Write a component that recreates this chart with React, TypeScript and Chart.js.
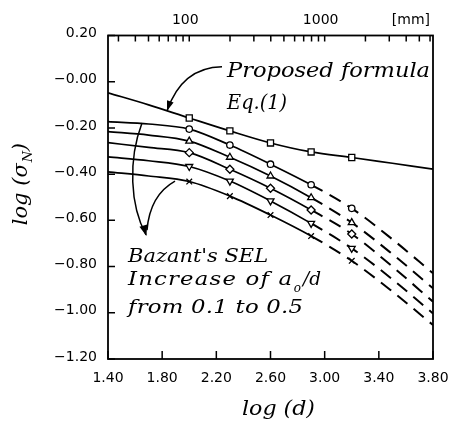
import React, { useEffect, useRef } from "react";
import { Chart, registerables } from "chart.js";

Chart.register(...registerables);

// ---- data ----
const CURVE_X = [1.4, 1.7, 2.0, 2.3, 2.6, 2.9, 3.2, 3.5, 3.8];
const PROPOSED = [-0.048, -0.1, -0.157, -0.213, -0.265, -0.304, -0.328, -0.353, -0.378];
const SEL_A = [-0.173, -0.183, -0.205, -0.274, -0.357, -0.446, -0.548, -0.682, -0.829];
const SEL_B = [-0.216, -0.231, -0.257, -0.327, -0.408, -0.502, -0.61, -0.746, -0.894];
const SEL_C = [-0.264, -0.284, -0.307, -0.379, -0.461, -0.555, -0.659, -0.8, -0.952];
const SEL_D = [-0.325, -0.342, -0.367, -0.43, -0.516, -0.613, -0.721, -0.855, -1.003];
const SEL_E = [-0.39, -0.408, -0.432, -0.495, -0.577, -0.668, -0.775, -0.908, -1.053];

const MARK_X = [2.0, 2.3, 2.6, 2.9, 3.2];
const PROPOSED_MARKS = [-0.157, -0.213, -0.265, -0.304, -0.328];
const SEL_A_MARKS = [-0.205, -0.274, -0.357, -0.446, -0.548];
const SEL_B_MARKS = [-0.257, -0.327, -0.408, -0.502, -0.61];
const SEL_C_MARKS = [-0.307, -0.379, -0.461, -0.555, -0.659];
const SEL_D_MARKS = [-0.367, -0.43, -0.516, -0.613, -0.721];
const SEL_E_MARKS = [-0.432, -0.495, -0.577, -0.668, -0.775];

const DASH_FROM = 2.9;

const X_TICKS = [1.4, 1.8, 2.2, 2.6, 3.0, 3.4, 3.8];
const X_TICK_LABELS = ["1.40", "1.80", "2.20", "2.60", "3.00", "3.40", "3.80"];
const Y_TICKS = [0.2, 0, -0.2, -0.4, -0.6, -0.8, -1.0, -1.2];
const Y_TICK_LABELS = ["0.20", "\u22120.00", "\u22120.20", "\u22120.40", "\u22120.60", "\u22120.80", "\u22121.00", "\u22121.20"];
const MM_LABEL_VALUES = [100, 1000];
const MM_LABELS = ["100", "1000"];
const MM_MINOR = [30, 40, 50, 60, 70, 80, 90, 100, 200, 300, 400, 500, 600, 700, 800, 900, 1000, 2000, 3000, 4000, 5000, 6000];

// ---- helpers ----
const pts = (xs: number[], ys: number[]) => xs.map((x, i) => ({ x, y: ys[i] }));

const curve = (ys: number[], dashed: boolean) => ({
  type: "line" as const,
  data: pts(CURVE_X, ys),
  xAxisID: "x",
  yAxisID: "y",
  borderColor: "#000",
  borderWidth: 1.7,
  pointRadius: 0,
  fill: false,
  cubicInterpolationMode: "monotone" as const,
  order: 2,
  segment: dashed
    ? { borderDash: (c: any) => (c.p0.parsed.x >= DASH_FROM - 1e-9 ? [13, 8] : undefined),
        borderWidth: (c: any) => (c.p0.parsed.x >= DASH_FROM - 1e-9 ? 2 : undefined) }
    : undefined,
});

const marks = (ys: number[], style: string, radius: number, rotation = 0) => ({
  type: "line" as const,
  data: pts(MARK_X, ys),
  xAxisID: "x",
  yAxisID: "y",
  showLine: false,
  pointStyle: style,
  pointRadius: radius,
  pointRotation: rotation,
  pointBackgroundColor: "#fff",
  pointBorderColor: "#000",
  pointBorderWidth: 1.3,
  borderColor: "#000",
  order: 0,
});

// draws text so that it spans `width` px: widen glyphs a little, then spread letters
function fitText(ctx: CanvasRenderingContext2D, text: string, x: number, y: number, width: number, maxStretch = 1.2) {
  const c = ctx as any;
  c.letterSpacing = "0px";
  const w = ctx.measureText(text).width;
  const n = Array.from(text).length;
  let k = width / w;
  if (k > maxStretch) k = maxStretch;
  const sp = n > 1 ? (width - w * k) / (n - 1) : 0;
  ctx.save();
  ctx.translate(x, y);
  ctx.scale(k, 1);
  c.letterSpacing = `${sp / k}px`;
  ctx.fillText(text, 0, 0);
  ctx.restore();
  c.letterSpacing = "0px";
}

function arrowHead(ctx: CanvasRenderingContext2D, tx: number, ty: number, dx: number, dy: number, len: number, half: number) {
  const m = Math.hypot(dx, dy) || 1;
  const ux = dx / m, uy = dy / m;
  const bx = tx - ux * len, by = ty - uy * len;
  ctx.beginPath();
  ctx.moveTo(tx, ty);
  ctx.lineTo(bx - uy * half, by + ux * half);
  ctx.lineTo(bx + uy * half, by - ux * half);
  ctx.closePath();
  ctx.fill();
}

const decor = {
  id: "decor",
  afterDraw(chart: any) {
    const { ctx, chartArea: a } = chart;
    const sx = chart.scales.x, sy = chart.scales.y, st = chart.scales.xTop;
    const X = (v: number) => sx.getPixelForValue(v);
    const Y = (v: number) => sy.getPixelForValue(v);
    ctx.save();
    ctx.strokeStyle = "#000";
    ctx.fillStyle = "#000";

    // frame
    ctx.lineWidth = 1.8;
    ctx.strokeRect(a.left, a.top, a.right - a.left, a.bottom - a.top);

    // inward ticks
    ctx.lineWidth = 1.5;
    ctx.beginPath();
    X_TICKS.forEach((v) => { const p = X(v); ctx.moveTo(p, a.bottom); ctx.lineTo(p, a.bottom - 8); });
    Y_TICKS.forEach((v) => { const p = Y(v); ctx.moveTo(a.left, p); ctx.lineTo(a.left + 7, p); });
    MM_MINOR.forEach((v) => { const p = st.getPixelForValue(v); ctx.moveTo(p, a.top); ctx.lineTo(p, a.top + 6); });
    ctx.stroke();

    // [mm]
    ctx.font = '14px "DejaVu Sans"';
    ctx.textAlign = "right";
    ctx.textBaseline = "middle";
    ctx.fillText("[mm]", a.right - 3, a.top - 15.5);

    // arrows
    ctx.lineWidth = 1.5;
    const p0 = [X(2.242), Y(0.065)], p1 = [X(1.946), Y(0.062)], p2 = [X(1.836), Y(-0.126)];
    ctx.beginPath();
    ctx.moveTo(p0[0], p0[1]);
    ctx.quadraticCurveTo(p1[0], p1[1], p2[0], p2[1]);
    ctx.stroke();
    arrowHead(ctx, p2[0], p2[1], p2[0] - p1[0], p2[1] - p1[1], 10, 3.5);

    const q0 = [X(1.651), Y(-0.179)], q1 = [X(1.548), Y(-0.339)], q2 = [X(1.562), Y(-0.534)], q3 = [X(1.681), Y(-0.663)];
    ctx.beginPath();
    ctx.moveTo(q0[0], q0[1]);
    ctx.bezierCurveTo(q1[0], q1[1], q2[0], q2[1], q3[0], q3[1]);
    ctx.stroke();
    const r0 = [X(1.895), Y(-0.43)], r1 = [X(1.71), Y(-0.49)], r2 = [X(1.688), Y(-0.642)];
    ctx.beginPath();
    ctx.moveTo(r0[0], r0[1]);
    ctx.quadraticCurveTo(r1[0], r1[1], r2[0], r2[1]);
    ctx.stroke();
    arrowHead(ctx, X(1.684), Y(-0.668), 0.3, 1, 11, 4);

    // annotation text
    ctx.textAlign = "left";
    ctx.textBaseline = "alphabetic";
    ctx.font = 'italic 20px "DejaVu Serif"';
    fitText(ctx, "Proposed formula", X(2.279), Y(0.02), 203);
    fitText(ctx, "Eq.(1)", X(2.279), Y(-0.118), 60);
    ctx.font = 'italic 19px "DejaVu Serif"';
    fitText(ctx, "Bazant's SEL", X(1.548), Y(-0.781), 140);
    fitText(ctx, "Increase of a", X(1.548), Y(-0.88), 164);
    fitText(ctx, "/d", X(2.84), Y(-0.88), 18);
    fitText(ctx, "from 0.1 to 0.5", X(1.548), Y(-1.001), 175);
    ctx.font = 'italic 12px "DejaVu Serif"';
    ctx.fillText("o", X(2.772), Y(-0.91));

    // axis titles
    ctx.font = 'italic 21px "DejaVu Serif"';
    const cx = (a.left + a.right) / 2 + 8;
    fitText(ctx, "log (d)", cx - 36.5, a.bottom + 56, 73);

    ctx.save();
    ctx.translate(27, (a.top + a.bottom) / 2 - 13);
    ctx.rotate(-Math.PI / 2);
    ctx.font = 'italic 21px "DejaVu Serif"';
    fitText(ctx, "log (\u03c3", -41, 0, 62);
    ctx.font = 'italic 13px "DejaVu Serif"';
    ctx.fillText("N", 22, 5);
    ctx.font = 'italic 21px "DejaVu Serif"';
    ctx.fillText(")", 33, 0);
    ctx.restore();

    ctx.restore();
  },
};

const tickFont = { family: "'DejaVu Sans'", size: 14 };

export default function App() {
  const ref = useRef<HTMLCanvasElement>(null);
  useEffect(() => {
    if (!ref.current) return;
    const chart = new Chart(ref.current, {
      type: "line",
      data: {
        datasets: [
          marks(PROPOSED_MARKS, "rect", 4.3),
          marks(SEL_A_MARKS, "circle", 3.2),
          marks(SEL_B_MARKS, "triangle", 4),
          marks(SEL_C_MARKS, "rectRot", 4),
          marks(SEL_D_MARKS, "triangle", 4, 180),
          marks(SEL_E_MARKS, "crossRot", 4),
          curve(PROPOSED, false),
          curve(SEL_A, true),
          curve(SEL_B, true),
          curve(SEL_C, true),
          curve(SEL_D, true),
          curve(SEL_E, true),
        ] as any,
      },
      options: {
        animation: false,
        responsive: false,
        devicePixelRatio: 1,
        layout: { padding: { left: 0, right: 18, top: 0, bottom: 0 } },
        plugins: { legend: { display: false }, tooltip: { enabled: false } },
        scales: {
          x: {
            type: "linear",
            position: "bottom",
            min: 1.4,
            max: 3.8,
            afterBuildTicks: (s: any) => { s.ticks = X_TICKS.map((v) => ({ value: v })); },
            afterFit: (s: any) => { s.height = 62; s.paddingLeft = 0; s.paddingRight = 0; },
            ticks: {
              callback: (_v: any, i: number) => X_TICK_LABELS[i],
              font: tickFont, color: "#000", padding: 11, maxRotation: 0, autoSkip: false,
            },
            grid: { display: false, drawTicks: false },
            border: { display: false },
          },
          xTop: {
            type: "logarithmic",
            position: "top",
            min: Math.pow(10, 1.4),
            max: Math.pow(10, 3.8),
            afterBuildTicks: (s: any) => { s.ticks = MM_LABEL_VALUES.map((v) => ({ value: v })); },
            afterFit: (s: any) => { s.height = 35.5; s.paddingLeft = 0; s.paddingRight = 0; },
            ticks: {
              callback: (_v: any, i: number) => MM_LABELS[i],
              font: tickFont, color: "#000", padding: 7, maxRotation: 0, autoSkip: false, labelOffset: -4,
            },
            grid: { display: false, drawTicks: false },
            border: { display: false },
          },
          y: {
            type: "linear",
            position: "left",
            min: -1.2,
            max: 0.2,
            afterBuildTicks: (s: any) => { s.ticks = Y_TICKS.map((v) => ({ value: v })); },
            afterFit: (s: any) => { s.width = 108; s.paddingTop = 0; s.paddingBottom = 0; },
            ticks: {
              callback: (_v: any, i: number) => Y_TICK_LABELS[i],
              font: tickFont, color: "#000", padding: 11, labelOffset: -2, autoSkip: false,
            },
            grid: { display: false, drawTicks: false },
            border: { display: false },
          },
        } as any,
      },
      plugins: [decor],
    });
    return () => chart.destroy();
  }, []);
  return (
    <div style={{ position: "absolute", left: 0, top: 0, width: 451, height: 421, background: "#fff" }}>
      <canvas ref={ref} width={451} height={421} style={{ display: "block", width: 451, height: 421 }} />
    </div>
  );
}
